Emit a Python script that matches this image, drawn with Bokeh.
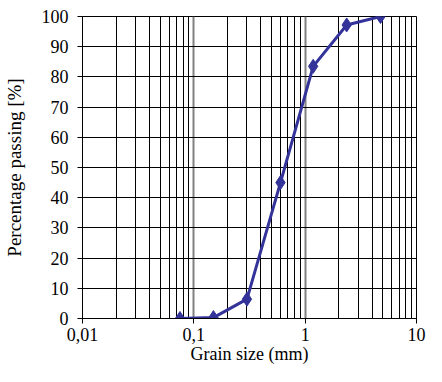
from bokeh.plotting import figure
from bokeh.models import FixedTicker, CustomJSTickFormatter, Range1d, ColumnDataSource
from bokeh.embed import file_html
from bokeh.resources import INLINE

# Data
grain_size = [0.075, 0.15, 0.3, 0.6, 1.18, 2.36, 4.75]
passing = [0.0, 0.3, 6.4, 45.0, 83.5, 97.2, 100.0]

x_major = [0.01, 0.1, 1, 10]
y_major = [0, 10, 20, 30, 40, 50, 60, 70, 80, 90, 100]

x_minor = [m * d for d in [0.01, 0.1, 1] for m in range(2, 10)]

FONT = "Liberation Serif"

p = figure(width=426, height=366, x_axis_type="log",
           output_backend="svg", toolbar_location=None,
           x_range=Range1d(0.01, 10), y_range=Range1d(0, 100),
           min_border_left=74, min_border_right=10,
           min_border_top=16, min_border_bottom=44)

src = ColumnDataSource(dict(x=grain_size, y=passing))
p.line("x", "y", source=src, line_color="#333399", line_width=3)
p.scatter("x", "y", source=src, marker="diamond", size=14,
          fill_color="#333399", line_color="#333399")

p.xaxis.ticker = FixedTicker(ticks=x_major, minor_ticks=x_minor)
p.yaxis.ticker = FixedTicker(ticks=y_major)
p.xaxis.formatter = CustomJSTickFormatter(code="return String(tick).replace('.', ',');")

p.xgrid.grid_line_color = "#808080"
p.xgrid.grid_line_width = 2
p.xgrid.minor_grid_line_color = "black"
p.xgrid.minor_grid_line_width = 1
p.ygrid.grid_line_color = "black"
p.ygrid.grid_line_width = 1

p.outline_line_color = "black"
p.outline_line_width = 1

for ax in (p.xaxis[0], p.yaxis[0]):
    ax.axis_line_color = "black"
    ax.major_tick_line_color = "black"
    ax.minor_tick_line_color = None
    ax.major_tick_out = 5
    ax.major_tick_in = 0
    ax.major_label_text_font = FONT
    ax.major_label_text_font_size = "18px"
    ax.major_label_text_color = "black"
    ax.axis_label_text_font = FONT
    ax.axis_label_text_font_size = "18px"
    ax.axis_label_text_font_style = "normal"
    ax.axis_label_text_color = "black"

p.yaxis.axis_label_text_font_size = "19px"
p.xaxis.axis_label = "Grain size (mm)"
p.yaxis.axis_label = "Percentage passing [%]"
p.xaxis.major_label_standoff = 4
p.xaxis.axis_label_standoff = 0
p.yaxis.major_label_standoff = 9
p.yaxis.axis_label_standoff = 14

open("out.html", "w").write(file_html(p, INLINE))
